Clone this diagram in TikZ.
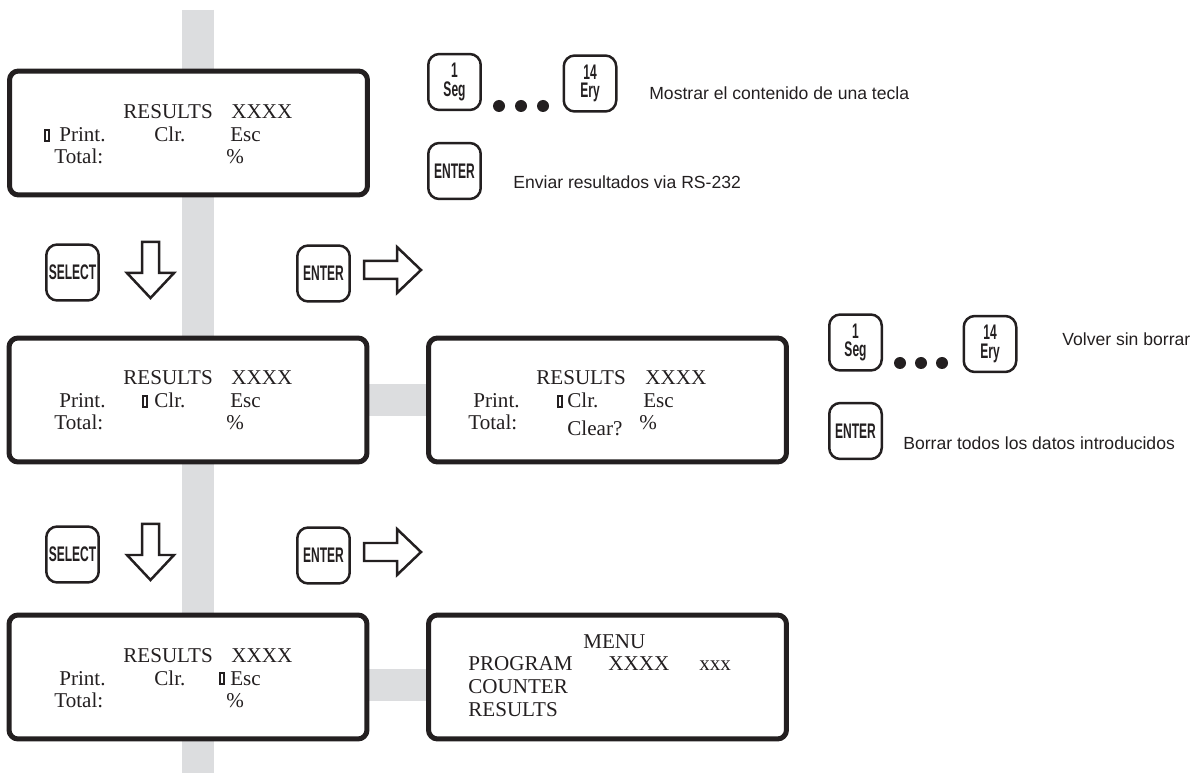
\documentclass[tikz,border=0pt]{standalone}
\usepackage{fontspec}
\setmainfont{Liberation Serif}
\newfontfamily\descfont{Liberation Sans}
\newfontfamily\keyfont{Liberation Sans}[FakeStretch=0.57]
\usetikzlibrary{backgrounds}
\definecolor{bargray}{RGB}{220,221,223}
\definecolor{ink}{RGB}{35,31,32}

\begin{document}
\begin{tikzpicture}[x=0.02cm,y=-0.02cm,
  screen/.style={draw=ink,fill=white,line width=0.1cm,rounded corners=0.18cm,minimum width=7.16cm,minimum height=2.48cm},
  lcd/.style={anchor=base west,inner sep=0,font=\fontsize{12}{14}\selectfont,text=ink},
  cursor/.style={draw=ink,fill=white,line width=0.04cm,minimum width=0.08cm,minimum height=0.22cm,inner sep=0},
  key/.style={draw=ink,fill=white,line width=0.05cm,rounded corners=0.22cm,minimum width=1.05cm,minimum height=1.12cm,inner sep=0,align=center,font=\keyfont\bfseries\fontsize{12}{10.5}\selectfont,text=ink},
  hint/.style={anchor=base west,inner sep=0,font=\descfont\fontsize{10}{12}\selectfont,text=ink},
  dot/.style={circle,fill=ink,inner sep=0,minimum size=0.24cm},
  blockarrow/.style={draw=ink,fill=white,line width=0.05cm,line join=miter},
  bar/.style={bargray,line width=0.64cm}]
\useasboundingbox (0,0) rectangle (1194,773);

\node[screen] (scr1) at (188.5,133) {};
\node[screen] (scr2) at (188,400) {};
\node[screen] (scr3) at (188,677) {};
\node[screen] (scr4) at (607.5,400) {};
\node[screen] (scr5) at (607.5,677) {};

\coordinate (bartop) at (198,10);
\coordinate (barbot) at (198,773);
\begin{scope}[on background layer]
  \draw[bar] (bartop) -- (barbot);
  \draw[bar] (scr2) -- (scr4);
  \draw[bar] ([yshift=-0.16cm]scr3.center) -- ([yshift=-0.16cm]scr5.center);
\end{scope}

\foreach \s/\t/\cx in {1/69/44,2/335/142,3/612/219}{
  \node[lcd] (title\s) at (123,\t+50) {RESULTS};
  \node[lcd] (code\s) at (231,\t+50) {XXXX};
  \node[lcd] (print\s) at (59,\t+73) {Print.};
  \node[lcd] (clr\s) at (154,\t+73) {Clr.};
  \node[lcd] (esc\s) at (230,\t+73) {Esc};
  \node[lcd] (total\s) at (54,\t+95) {Total:};
  \node[lcd] (pct\s) at (226,\t+95) {\%};
  \node[cursor] (cur\s) at (\cx+3,\t+66.5) {};
}

\node[lcd] (title4) at (536,385) {RESULTS};
\node[lcd] (code4) at (645,385) {XXXX};
\node[lcd] (print4) at (473,408) {Print.};
\node[cursor] (cur4) at (559.5,401.5) {};
\node[lcd] (clr4) at (567,408) {Clr.};
\node[lcd] (esc4) at (643,408) {Esc};
\node[lcd] (total4) at (468,430) {Total:};
\node[lcd] (ask4) at (567,436) {Clear?};
\node[lcd] (pct4) at (639,430) {\%};

\node[lcd] (menu5) at (583,648) {MENU};
\node[lcd] (prog5) at (468,670) {PROGRAM};
\node[lcd] (code5) at (608,670) {XXXX};
\node[lcd] (num5) at (699,670) {xxx};
\node[lcd] (count5) at (468,693) {COUNTER};
\node[lcd] (res5) at (468,716) {RESULTS};

\foreach \r/\dy in {1/0,2/282}{
  \node[key] (sel\r) at (72.5,272.5+\dy) {SELECT};
  \node[key] (ent\r) at (323.5,273.5+\dy) {ENTER};
  \draw[blockarrow] (142,242+\dy) -- (159,242+\dy) -- (159,273+\dy) -- (174,273+\dy)
    -- (150.5,298+\dy) -- (127,273+\dy) -- (142,273+\dy) -- cycle;
  \draw[blockarrow] (364,261+\dy) -- (397,261+\dy) -- (397,247+\dy) -- (421,270+\dy)
    -- (397,293+\dy) -- (397,279+\dy) -- (364,279+\dy) -- cycle;
}

\node[key] (seg1) at (454.5,82) {1\\Seg};
\node[key] (ery1) at (590,83.5) {14\\Ery};
\foreach \x in {499,521,543}
  \node[dot] at (\x,106) {};
\node[hint] (show) at (649,100) {Mostrar el contenido de una tecla};
\node[key] (ent0) at (454.5,171) {ENTER};
\node[hint] (send) at (513,189) {Enviar resultados via RS-232};

\node[key] (seg2) at (855.5,342.5) {1\\Seg};
\node[key] (ery2) at (990,344) {14\\Ery};
\foreach \x in {900,921,942}
  \node[dot] at (\x,363) {};
\node[hint] (back) at (1062,346) {Volver sin borrar};
\node[key] (ent3) at (855.5,431) {ENTER};
\node[hint] (erase) at (903,450) {Borrar todos los datos introducidos};
\end{tikzpicture}
\end{document}
